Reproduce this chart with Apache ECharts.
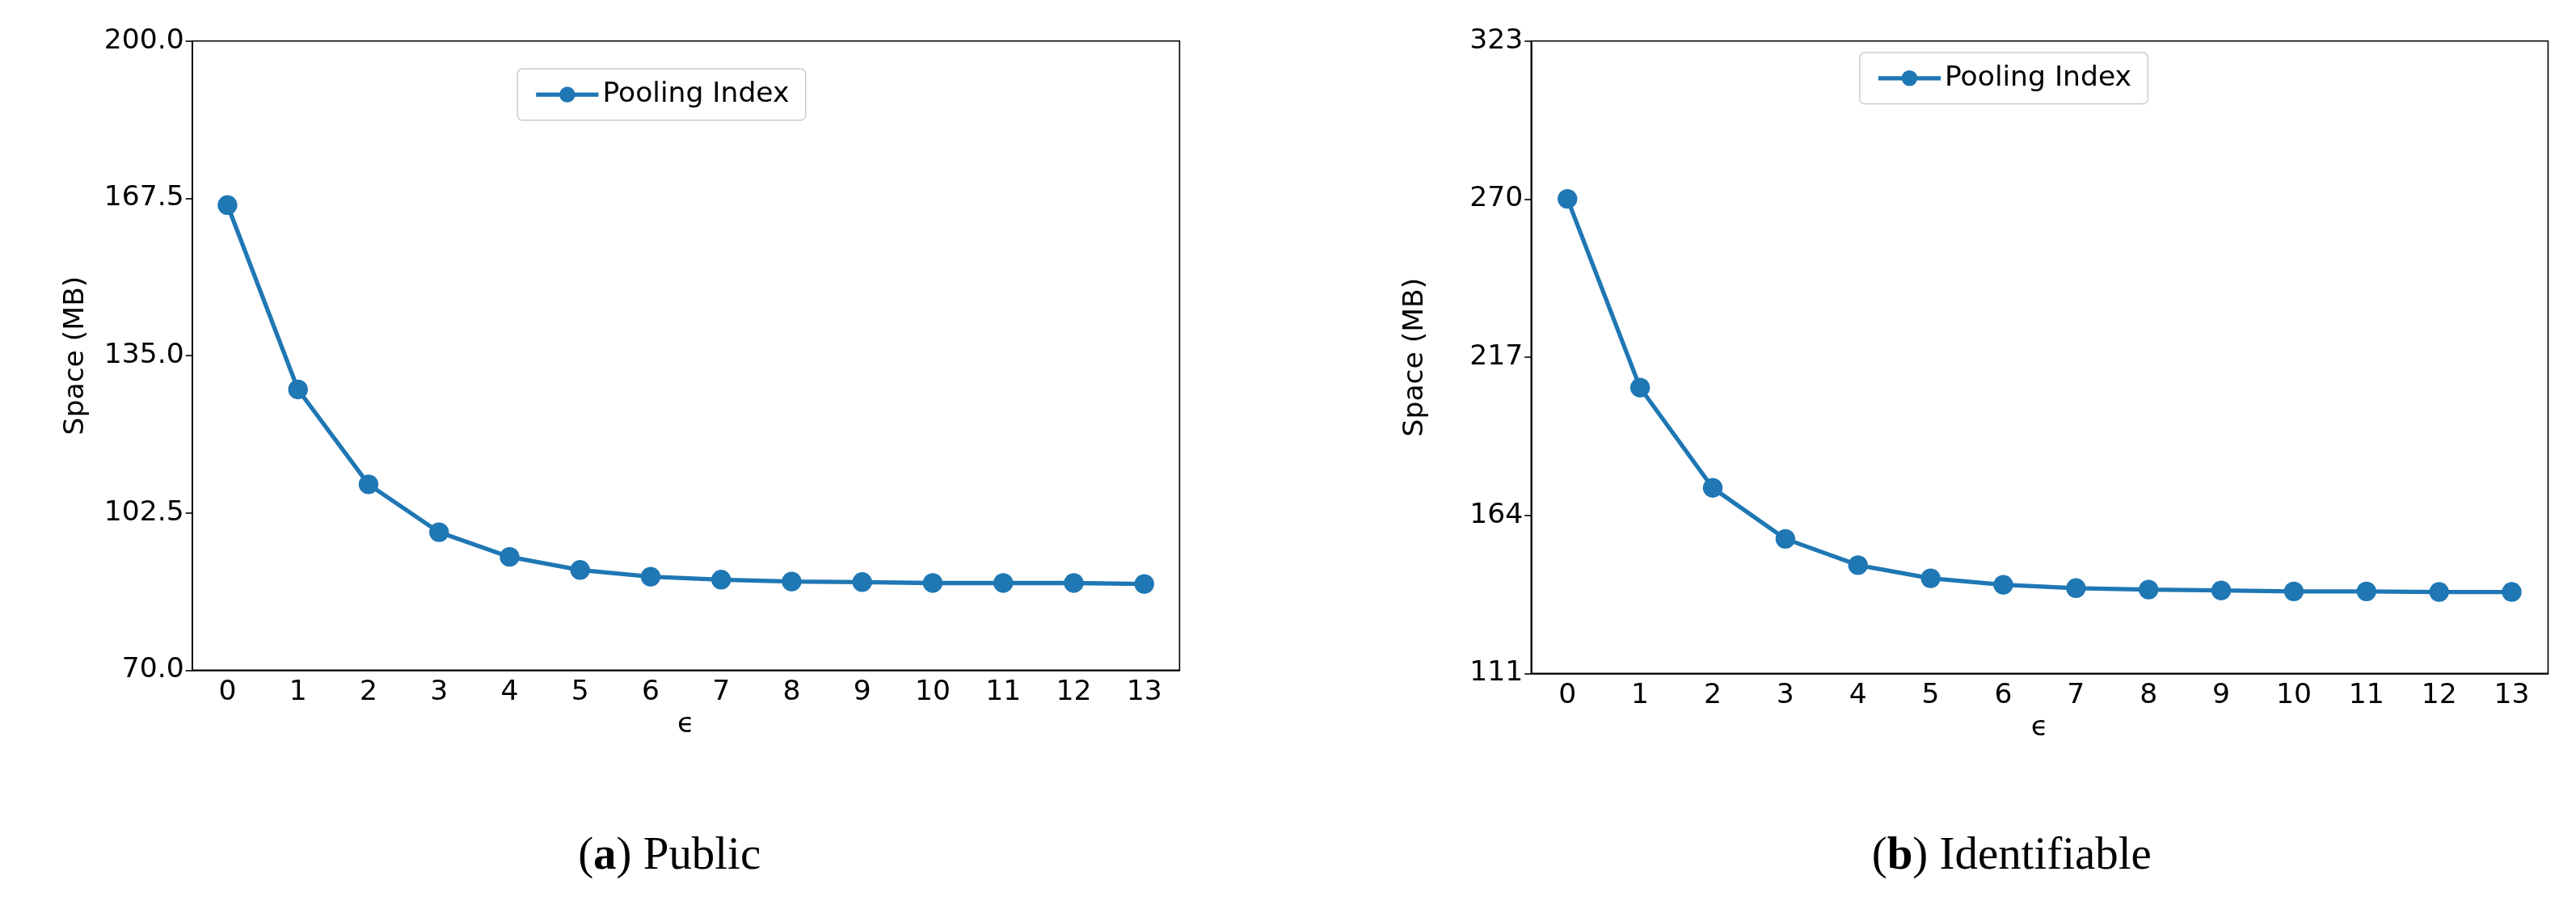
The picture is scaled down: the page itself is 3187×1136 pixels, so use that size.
<!DOCTYPE html>
<html lang="en">
<head>
<meta charset="UTF-8">
<title>Pooling Index space</title>
<script src="https://cdn.jsdelivr.net/npm/echarts@6/dist/echarts.min.js"></script>
<style>html,body{margin:0;padding:0;background:#fff}#main{width:3187px;height:1136px}</style>
</head>
<body>
<div id="main"></div>
<script>
// data
var epsilons = ['0','1','2','3','4','5','6','7','8','9','10','11','12','13'];
var publicSpace = [166.1, 128.0, 108.4, 98.5, 93.4, 90.7, 89.3, 88.7, 88.3, 88.2, 88.0, 88.0, 88.0, 87.8];
var identSpace = [270.1, 206.8, 173.2, 156.1, 147.3, 142.9, 140.7, 139.6, 139.1, 138.8, 138.5, 138.5, 138.3, 138.3];
var publicTicks = {min: 70, max: 200, interval: 32.5};
var identTicks = {min: 111, max: 323, interval: 53};

var S = 3187 / 1568;
var font = 'DejaVu Sans';
var blue = '#1f77b4';

var myChart = echarts.init(document.getElementById('main'));

function axisPair(idx, ticks, digits) {
    return {
        x: {
            type: 'category', gridIndex: idx, data: epsilons, boundaryGap: true,
            name: 'ϵ', nameLocation: 'middle', nameGap: 23 * S,
            nameTextStyle: {fontFamily: font, fontSize: 17 * S, color: '#000'},
            axisLine: {lineStyle: {color: '#000', width: 1.6}},
            axisTick: {alignWithLabel: true, length: 4 * S, lineStyle: {color: '#000', width: 1.6}},
            axisLabel: {fontFamily: font, fontSize: 17 * S, color: '#000', margin: 5 * S, interval: 0},
            splitLine: {show: false}
        },
        y: {
            type: 'value', gridIndex: idx, min: ticks.min, max: ticks.max, interval: ticks.interval,
            name: 'Space (MB)', nameLocation: 'middle', nameGap: 62 * S,
            nameTextStyle: {fontFamily: font, fontSize: 17 * S, color: '#000'},
            axisLine: {show: true, lineStyle: {color: '#000', width: 1.6}},
            axisTick: {show: true, length: 4 * S, lineStyle: {color: '#000', width: 1.6}},
            axisLabel: {fontFamily: font, fontSize: 17 * S, color: '#000', margin: 5 * S,
                formatter: function (v) { return v.toFixed(digits); }},
            splitLine: {show: false}
        }
    };
}

var a = axisPair(0, publicTicks, 1);
var b = axisPair(1, identTicks, 0);

function lineSeries(idx, data) {
    return {
        name: 'Pooling Index', type: 'line', xAxisIndex: idx, yAxisIndex: idx, data: data,
        symbol: 'circle', symbolSize: 12 * S, color: blue,
        lineStyle: {width: 2.6 * S, color: blue}, itemStyle: {color: blue}
    };
}

function legendAt(left, top) {
    return {data: ['Pooling Index'], left: left * S, top: top * S, itemWidth: 38 * S, itemHeight: 12 * S,
        itemGap: 8 * S,
        textStyle: {fontFamily: font, fontSize: 17 * S, color: '#000'},
        itemStyle: {color: blue}, lineStyle: {width: 2.6 * S, color: blue},
        borderColor: '#ccc', borderWidth: 1.5, borderRadius: 6, padding: [7 * S, 10 * S]};
}

var captionStyle = {fontFamily: 'Liberation Serif', fontSize: 28 * S, fontWeight: 'normal', color: '#000',
    rich: {a: {fontFamily: 'Liberation Serif', fontSize: 28 * S, fontWeight: 'bold', color: '#000'}}};

option = {
    animation: false,
    backgroundColor: '#fff',
    grid: [
        {left: 117 * S, top: 25 * S, width: 601 * S, height: 383 * S, show: true, borderColor: '#000', borderWidth: 1.6},
        {left: 932 * S, top: 25 * S, width: 619 * S, height: 385 * S, show: true, borderColor: '#000', borderWidth: 1.6}
    ],
    xAxis: [a.x, b.x],
    yAxis: [a.y, b.y],
    legend: [legendAt(315, 42), legendAt(1132, 32)],
    title: [
        {text: '({a|a}) Public', left: 405 * S, top: 505 * S, textAlign: 'center', textStyle: captionStyle},
        {text: '({a|b}) Identifiable', left: 1222 * S, top: 505 * S, textAlign: 'center', textStyle: captionStyle}
    ],
    series: [lineSeries(0, publicSpace), lineSeries(1, identSpace)]
};
myChart.setOption(option);
</script>
</body>
</html>
